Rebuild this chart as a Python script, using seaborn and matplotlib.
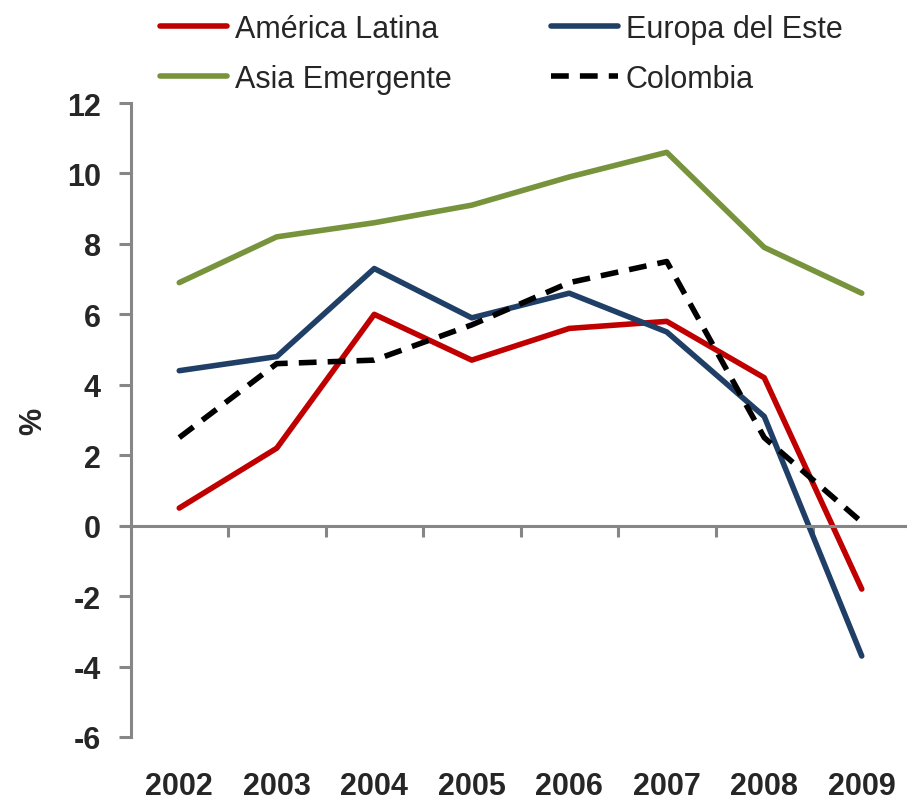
import pandas as pd
import numpy as np
import matplotlib
matplotlib.use('Agg')
import matplotlib.pyplot as plt
import matplotlib.transforms as mtransforms
import seaborn as sns

sns.set_style('white', {'xtick.bottom': True, 'ytick.left': True})
plt.rcParams['font.family'] = ['Liberation Sans', 'DejaVu Sans']

# data (% growth)
years = ['2002', '2003', '2004', '2005', '2006', '2007', '2008', '2009']
america_latina = [0.5, 2.2, 6.0, 4.7, 5.6, 5.8, 4.2, -1.8]
europa_este = [4.4, 4.8, 7.3, 5.9, 6.6, 5.5, 3.1, -3.7]
asia_emergente = [6.9, 8.2, 8.6, 9.1, 9.9, 10.6, 7.9, 6.6]
colombia = [2.5, 4.6, 4.7, 5.7, 6.9, 7.5, 2.5, 0.1]

series_names = ['América Latina', 'Europa del Este', 'Asia Emergente', 'Colombia']
series_values = [america_latina, europa_este, asia_emergente, colombia]
colors = {'América Latina': '#C00000', 'Europa del Este': '#1F3F66',
          'Asia Emergente': '#77933C', 'Colombia': '#000000'}
dash_styles = {'América Latina': '', 'Europa del Este': '',
               'Asia Emergente': '', 'Colombia': (3.2, 2.0)}

df = pd.DataFrame({
    'pos': np.tile(np.arange(len(years)), len(series_names)),
    'serie': np.repeat(series_names, len(years)),
    'valor': np.concatenate(series_values),
})

fig = plt.figure(figsize=(9.07, 8.04), dpi=100)
ax = fig.add_axes([130.5 / 907, 1 - 738 / 804, 780 / 907, (738 - 104) / 804])

sns.lineplot(data=df, x='pos', y='valor', hue='serie', style='serie',
             palette=colors, dashes=dash_styles, hue_order=series_names,
             style_order=series_names, linewidth=4, sort=False, ax=ax,
             legend=False)

ax.set_xlim(-0.5, len(years) - 0.5)
ax.set_ylim(-6, 12)
ax.set_yticks(np.arange(-6, 13, 2))
ax.set_yticklabels([str(v) for v in range(-6, 13, 2)], fontsize=22, fontweight='bold')

# x axis line sits at zero, ticks between categories
ax.spines['bottom'].set_position(('data', 0))
ax.spines['top'].set_visible(False)
ax.spines['right'].set_visible(False)
for s in ['left', 'bottom']:
    ax.spines[s].set_color('#868686')
    ax.spines[s].set_linewidth(2.2)
ax.set_xticks(np.arange(0.5, len(years) - 1, 1))
ax.set_xticklabels([])
ax.tick_params(axis='x', bottom=True, direction='out', length=8, width=2.2,
               color='#868686')
ax.tick_params(axis='y', left=True, direction='out', length=8.5, width=2.2,
               color='#868686', pad=13)

trans = mtransforms.blended_transform_factory(ax.transData, ax.transAxes)
for i, yr in enumerate(years):
    ax.text(i, -0.077, yr, transform=trans, ha='center', va='center',
            fontsize=22, fontweight='bold')

ax.set_xlabel('')
ax.set_ylabel('%', fontsize=22, fontweight='bold', labelpad=13)

# legend, two rows across the top
handles = []
for name in series_names:
    h, = ax.plot([], [], color=colors[name], linewidth=4,
                 linestyle=(0, (3.2, 2.0)) if name == 'Colombia' else '-',
                 solid_capstyle='round')
    handles.append(h)
order = [0, 2, 1, 3]
fig.legend([handles[i] for i in order], [series_names[i] for i in order],
           loc='upper left', bbox_to_anchor=(160 / 907, 1 - 15 / 804),
           ncol=2, frameon=False, fontsize=22, handlelength=2.2,
           handletextpad=0.25, columnspacing=3.25, labelspacing=0.65,
           borderpad=0, borderaxespad=0)

fig.savefig('out.png', dpi=100)
